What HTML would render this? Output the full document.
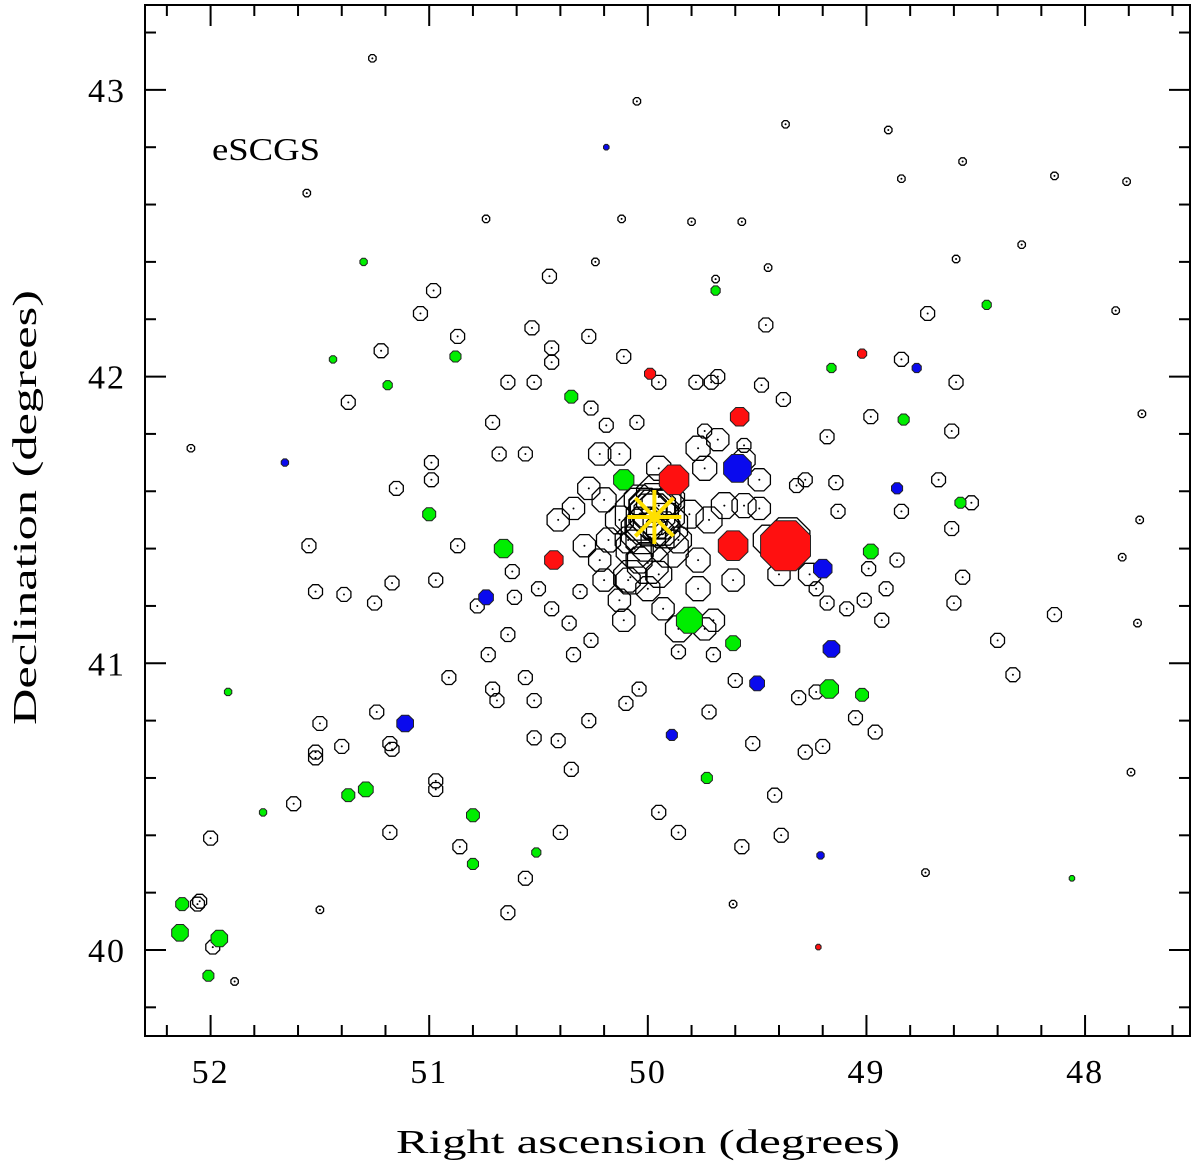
<!DOCTYPE html>
<html><head><meta charset="utf-8"><style>html,body{margin:0;padding:0;background:#fff}svg{display:block}text{font-family:"Liberation Serif",serif;fill:#000}</style></head>
<body>
<svg id="chart" width="1200" height="1169" viewBox="0 0 1200 1169" xmlns="http://www.w3.org/2000/svg">
<g id="axes"></g>
<g id="marks"></g>
<text x="212" y="160" font-size="32" textLength="108" lengthAdjust="spacingAndGlyphs">eSCGS</text>
<text x="396" y="1153" font-size="34" textLength="504" lengthAdjust="spacingAndGlyphs">Right ascension (degrees)</text>
<text transform="translate(36,725) rotate(-90)" font-size="34" textLength="435" lengthAdjust="spacingAndGlyphs">Declination (degrees)</text>
</svg>
<script>
// axis ranges & tick labels
const xTickLabels = [52, 51, 50, 49, 48];
const yTickLabels = [40, 41, 42, 43];
// small open galaxies [ra, dec]
const smallRA = [51.26,50.05,49.37,48.90,48.56,48.14,47.81,48.84,51.56,50.74,50.12,49.80,49.57,48.29,50.24,49.69,49.45,48.59,47.86,47.74,52.09,47.75,47.83,47.76,47.79,48.73,51.50,51.89,49.61];
const smallDec = [43.11,42.96,42.88,42.86,42.75,42.70,42.68,42.69,42.64,42.55,42.55,42.54,42.54,42.46,42.40,42.34,42.38,42.41,42.23,41.87,41.75,41.50,41.37,41.14,40.62,40.27,40.14,39.89,40.16];
// medium open galaxies
const medRA = [50.45,50.98,51.04,50.53,50.87,50.27,50.44,50.44,50.11,51.22,51.37,50.64,50.52,50.26,50.71,50.05,49.95,49.78,49.71,49.68,49.48,49.38,49.46,48.72,48.59,48.61,49.18,48.98,49.74,49.56,51.15,50.99,50.99,51.55,51.52,51.39,51.25,51.17,50.97,50.87,50.68,50.56,50.19,48.84,48.67,48.52,48.61,48.56,48.60,48.84,49.13,49.14,49.32,49.28,48.40,48.33,48.14,48.99,48.86,48.91,49.01,49.09,49.18,49.23,48.93,50.91,50.73,50.64,50.69,50.56,50.52,50.36,50.34,50.27,50.10,50.04,50.35,50.52,50.41,50.71,50.61,50.62,50.50,50.31,49.86,49.70,49.72,49.60,49.52,49.42,49.39,49.57,49.28,49.20,49.31,49.23,49.05,48.96,49.95,49.86,50.40,50.56,50.64,50.86,50.97,50.97,51.18,51.62,51.52,51.52,51.50,51.40,51.24,51.18,51.17,52.00,52.06,51.99,52.05,50.78,50.26,50.44];
const medDec = [42.35,42.30,42.22,42.17,42.14,42.14,42.10,42.05,42.07,42.09,41.91,41.98,41.98,41.89,41.84,41.84,41.98,41.98,41.98,42.00,41.97,41.92,42.18,42.22,41.98,41.81,41.79,41.86,41.81,41.76,41.61,41.70,41.64,41.41,41.25,41.24,41.21,41.28,41.29,41.41,41.73,41.73,41.83,42.06,41.64,41.56,41.47,41.30,41.21,41.53,41.53,41.63,41.62,41.64,41.08,40.96,41.17,41.33,41.36,41.26,41.22,41.19,41.21,41.26,41.15,40.95,41.03,41.10,40.87,40.95,40.87,41.14,41.03,40.80,40.86,40.91,40.63,40.74,40.73,40.91,41.23,41.32,41.26,41.25,41.04,41.03,40.83,40.94,40.72,40.54,40.40,40.36,40.69,40.71,40.88,40.90,40.81,40.76,40.48,40.41,40.41,40.25,40.13,40.36,40.56,40.59,40.41,40.51,40.67,40.69,40.79,40.71,40.83,40.72,40.70,40.39,40.16,40.01,40.17,41.20,41.08,41.19];
// large open galaxies (core) with marker radius
const bigRA = [49.97,50.00,49.95,50.02,49.93,50.04,49.90,50.09,49.86,50.13,49.81,50.20,50.18,50.04,49.95,50.09,50.00,49.77,49.72,49.65,49.56,49.49,50.27,50.34,50.41,50.22,50.29,50.13,49.77,49.70,49.74,49.61,49.49,49.45,49.36,50.22,50.13,49.74,49.56,50.20,50.11,49.93,49.86,49.26,49.40,49.68,49.77,49.95,49.97,49.98,49.96,50.02,49.92,50.06,49.90,50.00,50.08,49.95,49.99,50.03];
const bigDec = [41.52,41.54,41.55,41.48,41.47,41.57,41.57,41.43,41.43,41.50,41.52,41.57,41.43,41.36,41.31,41.29,41.26,41.36,41.50,41.55,41.55,41.64,41.61,41.54,41.50,41.36,41.41,41.22,41.26,41.15,41.12,41.29,41.54,41.43,41.43,41.73,41.73,41.68,41.71,41.29,41.15,41.19,41.12,41.31,41.31,41.78,41.75,41.68,41.52,41.50,41.53,41.46,41.48,41.40,41.40,41.35,41.30,41.58,41.44,41.52];
const bigSize = [22,20,18,20,18,16,16,14,14,15,15,13,13,14,14,13,13,13,14,14,13,12,12,12,12,12,12,12,13,12,12,12,12,16,24,12,12,13,12,12,12,12,14,12,12,12,13,13,26,28,30,24,24,20,20,22,18,24,26,28];
// green filled
const greenRA = [51.30,51.44,51.19,50.88,49.69,49.16,48.45,48.83,50.35,51.00,50.66,50.11,49.81,49.61,48.57,48.98,49.17,49.02,49.73,50.80,50.80,50.51,51.37,51.29,51.76,51.92,52.13,52.14,51.96,52.01,48.06];
const greenDec = [42.40,42.06,41.97,42.07,42.30,42.03,42.25,41.85,41.93,41.52,41.40,41.64,41.15,41.07,41.56,41.39,40.91,40.89,40.60,40.47,40.30,40.34,40.54,40.56,40.48,40.90,40.16,40.06,40.04,39.91,40.25];
const greenSize = [4,4,5,6,5,5,5,6,7,7,10,11,14,8,6,8,10,7,6,7,6,5,7,8,4,4,7,9,9,6,3];
// red filled
const redRA = [49.99,49.02,49.58,49.88,49.61,49.37,50.43,49.22];
const redDec = [42.01,42.08,41.86,41.64,41.41,41.41,41.36,40.01];
const redSize = [6,5,10,16,16,27,10,3];
// blue filled
const blueRA = [50.19,51.66,48.77,48.86,49.59,49.20,50.74,49.16,51.11,49.50,49.89,49.21];
const blueDec = [42.80,41.70,42.03,41.61,41.68,41.33,41.23,41.05,40.79,40.93,40.75,40.33];
const blueSize = [3,4,5,6,15,10,8,9,9,8,6,4];
// cluster centre
const centreRA = [49.97];
const centreDec = [41.51];

const X0=145,X1=1190,Y0=5,Y1=1036;
const xMin=52.30,xMax=47.52,yMin=39.70,yMax=43.296;
function sx(ra){return X0+(ra-xMin)/(xMax-xMin)*(X1-X0);}
function sy(d){return Y1-(d-yMin)/(yMax-yMin)*(Y1-Y0);}
const NS='http://www.w3.org/2000/svg';
function mk(tag,attrs,parent){const e=document.createElementNS(NS,tag);for(const k in attrs)e.setAttribute(k,attrs[k]);parent.appendChild(e);return e;}
const axes=document.getElementById('axes'), marks=document.getElementById('marks');

const frame=mk('rect',{x:X0,y:Y0,width:X1-X0,height:Y1-Y0,fill:'none',stroke:'#000','stroke-width':2},axes);


for(let v=47.6;v<=52.21;v+=0.2){
  const val=Math.round(v*10)/10, x=sx(val), major=Math.abs(val-Math.round(val))<0.01, L=major?21:11;
  const t1=mk('line',{x1:x,y1:Y1,x2:x,y2:Y1-L,stroke:'#000','stroke-width':2},axes);
  
  
  const t2=mk('line',{x1:x,y1:Y0,x2:x,y2:Y0+L,stroke:'#000','stroke-width':2},axes);
  
  
}
for(let v=39.8;v<=43.21;v+=0.2){
  const val=Math.round(v*10)/10, y=sy(val), major=Math.abs(val-Math.round(val))<0.01, L=major?21:11;
  const t1=mk('line',{x1:X0,y1:y,x2:X0+L,y2:y,stroke:'#000','stroke-width':2},axes);
  
  
  const t2=mk('line',{x1:X1,y1:y,x2:X1-L,y2:y,stroke:'#000','stroke-width':2},axes);
  
  
}
xTickLabels.forEach(v=>{
  const t=mk('text',{x:sx(v),y:1083,'font-size':34,'text-anchor':'middle','letter-spacing':2},axes);
  t.textContent=String(v);
  
  
});
yTickLabels.forEach(v=>{
  const t=mk('text',{x:126,y:sy(v)+12,'font-size':34,'text-anchor':'end','letter-spacing':2},axes);
  t.textContent=String(v);
  
  
});

function octPts(cx,cy,r){let p=[];for(let i=0;i<8;i++){const a=Math.PI/8+i*Math.PI/4;p.push((cx+r*Math.cos(a)).toFixed(1)+','+(cy+r*Math.sin(a)).toFixed(1));}return p.join(' ');}
function openMarker(ra,dec,r,name){
  const cx=sx(ra),cy=sy(dec);
  const o=mk('polygon',{points:octPts(cx,cy,r),fill:'none',stroke:'#000','stroke-width':1.3},marks);
  
  
  const d=mk('circle',{cx:cx,cy:cy,r:1,fill:'#000'},marks);
  
  
}
smallRA.forEach((ra,i)=>openMarker(ra,smallDec[i],4,'small-galaxy'));
medRA.forEach((ra,i)=>openMarker(ra,medDec[i],7.5,'galaxy'));
bigRA.forEach((ra,i)=>openMarker(ra,bigDec[i],bigSize[i],'core-galaxy'));
function filled(raA,decA,sizeA,color,name){
  raA.forEach((ra,i)=>{
    const p=mk('polygon',{points:octPts(sx(ra),sy(decA[i]),sizeA[i]),fill:color,stroke:'#222','stroke-width':1},marks);
    
    
  });
}
filled(greenRA,greenDec,greenSize,'#00ee00','green-galaxy');
filled(redRA,redDec,redSize,'#ff1010','red-galaxy');
filled(blueRA,blueDec,blueSize,'#0a0aee','blue-galaxy');
centreRA.forEach((ra,i)=>{
  const cx=sx(ra),cy=sy(centreDec[i]),R=27;
  const g=mk('g',{stroke:'#ffe000','stroke-width':4},marks);
  
  
  for(let k=0;k<4;k++){const a=k*Math.PI/4;mk('line',{x1:cx-R*Math.cos(a),y1:cy-R*Math.sin(a),x2:cx+R*Math.cos(a),y2:cy+R*Math.sin(a)},g);}
});
</script>
</body></html>
